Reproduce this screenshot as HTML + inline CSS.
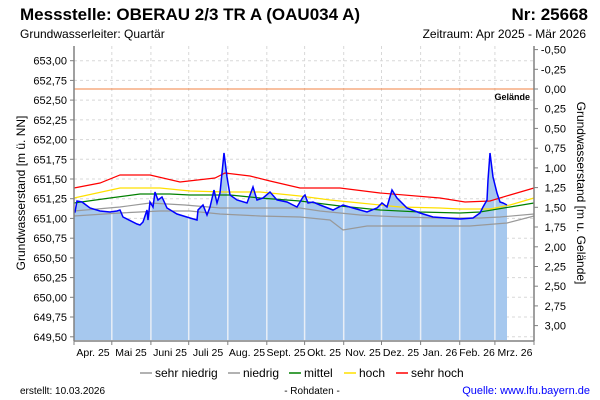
<!DOCTYPE html>
<html><head><meta charset="utf-8"><style>
html,body{margin:0;padding:0;background:#fff;}
svg{display:block;font-family:"Liberation Sans",sans-serif;}
</style></head><body>
<svg width="600" height="400" viewBox="0 0 600 400" xmlns="http://www.w3.org/2000/svg">
<rect width="600" height="400" fill="#fff"/>
<text x="20" y="20" font-size="17" font-weight="bold" fill="#000">Messstelle: OBERAU 2/3 TR A (OAU034 A)</text>
<text x="588" y="20" font-size="17" font-weight="bold" fill="#000" text-anchor="end">Nr: 25668</text>
<text x="20" y="38" font-size="12">Grundwasserleiter: Quartär</text>
<text x="586" y="38" font-size="12" text-anchor="end">Zeitraum: Apr 2025 - Mär 2026</text>
<!-- grid -->
<g stroke="#d8d8d8" stroke-dasharray="3,3" stroke-width="1">
<line x1="74" x2="534" y1="60.7" y2="60.7"/><line x1="74" x2="534" y1="80.4" y2="80.4"/><line x1="74" x2="534" y1="100.1" y2="100.1"/><line x1="74" x2="534" y1="119.9" y2="119.9"/><line x1="74" x2="534" y1="139.6" y2="139.6"/><line x1="74" x2="534" y1="159.3" y2="159.3"/><line x1="74" x2="534" y1="179" y2="179"/><line x1="74" x2="534" y1="198.7" y2="198.7"/><line x1="74" x2="534" y1="218.4" y2="218.4"/><line x1="74" x2="534" y1="238.2" y2="238.2"/><line x1="74" x2="534" y1="257.9" y2="257.9"/><line x1="74" x2="534" y1="277.6" y2="277.6"/><line x1="74" x2="534" y1="297.3" y2="297.3"/><line x1="74" x2="534" y1="317" y2="317"/><line x1="74" x2="534" y1="336.8" y2="336.8"/>
<line y1="46" y2="340" x1="111.8" x2="111.8"/><line y1="46" y2="340" x1="150.9" x2="150.9"/><line y1="46" y2="340" x1="188.7" x2="188.7"/><line y1="46" y2="340" x1="227.8" x2="227.8"/><line y1="46" y2="340" x1="266.8" x2="266.8"/><line y1="46" y2="340" x1="304.6" x2="304.6"/><line y1="46" y2="340" x1="343.7" x2="343.7"/><line y1="46" y2="340" x1="381.5" x2="381.5"/><line y1="46" y2="340" x1="420.6" x2="420.6"/><line y1="46" y2="340" x1="459.7" x2="459.7"/><line y1="46" y2="340" x1="494.9" x2="494.9"/>
</g>
<!-- fill -->
<polygon fill="#a6c8ee" points="74,340 74,212 75,212 77,201 82,202 90,208 100,211 110,212 117,211 120,210 123,217 137,224 140,225 143,222 147,210 148,220 150,202 153,207 155,192 158,200 162,197 167,208 177,214 190,218 197,220 198,210 203,205 207,215 210,207 214,190 217,203 220,193 222,173 224,153 227,177 230,195 237,200 247,203 253,187 257,200 263,198 270,192 277,200 287,202 297,207 303,197 305,195 308,203 313,202 320,205 333,210 343,205 353,208 367,212 377,208 382,203 387,207 392,190 397,198 407,208 420,213 433,217 447,218 460,219 473,218 480,213 483,207 487,200 488,180 490,153 493,177 497,193 500,202 503,203 507,205 507,340"/>
<g stroke="#e8eef6" stroke-width="1.5">
<line y1="212" y2="340" x1="111.8" x2="111.8"/><line y1="205" y2="340" x1="150.9" x2="150.9"/><line y1="218" y2="340" x1="188.7" x2="188.7"/><line y1="180" y2="340" x1="227.8" x2="227.8"/><line y1="200" y2="340" x1="266.8" x2="266.8"/><line y1="200" y2="340" x1="304.6" x2="304.6"/><line y1="206" y2="340" x1="343.7" x2="343.7"/><line y1="205" y2="340" x1="381.5" x2="381.5"/><line y1="213" y2="340" x1="420.6" x2="420.6"/><line y1="219" y2="340" x1="459.7" x2="459.7"/><line y1="200" y2="340" x1="494.9" x2="494.9"/>
</g>
<!-- reference lines -->
<polyline fill="none" stroke="#999" stroke-width="1.2" points="74,216 120,213 160,211 190,211 220,214 260,216 300,217 330,220 343,230 367,226 420,226 470,226 507,223 534,216"/>
<polyline fill="none" stroke="#999" stroke-width="1.2" points="74,211 120,207 150,203 185,205 220,208 300,208 320,211 360,215 400,217 440,218 480,218 500,217 534,214"/>
<polyline fill="none" stroke="#008000" stroke-width="1.2" points="74,203 110,198 140,194 170,194 190,195 230,195 260,198 300,201 340,206 380,210 420,212 460,213 480,212 510,207 534,203"/>
<polyline fill="none" stroke="#ffe000" stroke-width="1.2" points="74,198 120,188 160,188 190,191 225,192 260,192 300,196 330,200 360,203 400,207 440,208 460,209 490,209 510,205 534,198"/>
<polyline fill="none" stroke="#ff0000" stroke-width="1.2" points="74,188 100,183 120,175 150,175 180,182 215,178 225,173 250,176 270,181 300,188 340,188 380,193 440,198 465,202 490,201 510,195 534,188"/>
<polyline fill="none" stroke="#0000ff" stroke-width="1.5" points="74,212 75,212 77,201 82,202 90,208 100,211 110,212 117,211 120,210 123,217 137,224 140,225 143,222 147,210 148,220 150,202 153,207 155,192 158,200 162,197 167,208 177,214 190,218 197,220 198,210 203,205 207,215 210,207 214,190 217,203 220,193 222,173 224,153 227,177 230,195 237,200 247,203 253,187 257,200 263,198 270,192 277,200 287,202 297,207 303,197 305,195 308,203 313,202 320,205 333,210 343,205 353,208 367,212 377,208 382,203 387,207 392,190 397,198 407,208 420,213 433,217 447,218 460,219 473,218 480,213 483,207 487,200 488,180 490,153 493,177 497,193 500,202 503,203 507,205"/>
<!-- Gelände -->
<line x1="74" x2="534" y1="89" y2="89" stroke="#f08040" stroke-width="1"/>
<text x="530" y="100" font-size="9" font-weight="bold" text-anchor="end">Gelände</text>
<!-- axes -->
<g stroke="#808080" stroke-width="1.5" fill="none">
<line x1="74" y1="46" x2="74" y2="341"/><line x1="534" y1="46" x2="534" y2="341"/><line x1="74" y1="341" x2="534" y2="341"/>
</g>
<g stroke="#808080" stroke-width="1">
<line x1="70" x2="74" y1="60.7" y2="60.7"/><line x1="70" x2="74" y1="80.4" y2="80.4"/><line x1="70" x2="74" y1="100.1" y2="100.1"/><line x1="70" x2="74" y1="119.9" y2="119.9"/><line x1="70" x2="74" y1="139.6" y2="139.6"/><line x1="70" x2="74" y1="159.3" y2="159.3"/><line x1="70" x2="74" y1="179" y2="179"/><line x1="70" x2="74" y1="198.7" y2="198.7"/><line x1="70" x2="74" y1="218.4" y2="218.4"/><line x1="70" x2="74" y1="238.2" y2="238.2"/><line x1="70" x2="74" y1="257.9" y2="257.9"/><line x1="70" x2="74" y1="277.6" y2="277.6"/><line x1="70" x2="74" y1="297.3" y2="297.3"/><line x1="70" x2="74" y1="317" y2="317"/><line x1="70" x2="74" y1="336.8" y2="336.8"/>
<line x1="534" x2="538" y1="49.6" y2="49.6"/><line x1="534" x2="538" y1="69.3" y2="69.3"/><line x1="534" x2="538" y1="89" y2="89"/><line x1="534" x2="538" y1="108.7" y2="108.7"/><line x1="534" x2="538" y1="128.4" y2="128.4"/><line x1="534" x2="538" y1="148.2" y2="148.2"/><line x1="534" x2="538" y1="167.9" y2="167.9"/><line x1="534" x2="538" y1="187.6" y2="187.6"/><line x1="534" x2="538" y1="207.3" y2="207.3"/><line x1="534" x2="538" y1="227" y2="227"/><line x1="534" x2="538" y1="246.8" y2="246.8"/><line x1="534" x2="538" y1="266.5" y2="266.5"/><line x1="534" x2="538" y1="286.2" y2="286.2"/><line x1="534" x2="538" y1="305.9" y2="305.9"/><line x1="534" x2="538" y1="325.6" y2="325.6"/>
<line y1="341" y2="345" x1="74" x2="74"/><line y1="341" y2="345" x1="111.8" x2="111.8"/><line y1="341" y2="345" x1="150.9" x2="150.9"/><line y1="341" y2="345" x1="188.7" x2="188.7"/><line y1="341" y2="345" x1="227.8" x2="227.8"/><line y1="341" y2="345" x1="266.8" x2="266.8"/><line y1="341" y2="345" x1="304.6" x2="304.6"/><line y1="341" y2="345" x1="343.7" x2="343.7"/><line y1="341" y2="345" x1="381.5" x2="381.5"/><line y1="341" y2="345" x1="420.6" x2="420.6"/><line y1="341" y2="345" x1="459.7" x2="459.7"/><line y1="341" y2="345" x1="494.9" x2="494.9"/><line y1="341" y2="345" x1="534" x2="534"/>
</g>
<g font-size="11" text-anchor="end">
<text x="67" y="64.7">653,00</text><text x="67" y="84.4">652,75</text><text x="67" y="104.1">652,50</text><text x="67" y="123.9">652,25</text><text x="67" y="143.6">652,00</text><text x="67" y="163.3">651,75</text><text x="67" y="183">651,50</text><text x="67" y="202.7">651,25</text><text x="67" y="222.4">651,00</text><text x="67" y="242.2">650,75</text><text x="67" y="261.9">650,50</text><text x="67" y="281.6">650,25</text><text x="67" y="301.3">650,00</text><text x="67" y="321">649,75</text><text x="67" y="340.8">649,50</text>
</g>
<g font-size="11" text-anchor="end">
<text x="566" y="53.6">-0,50</text><text x="566" y="73.3">-0,25</text><text x="566" y="93">0,00</text><text x="566" y="112.7">0,25</text><text x="566" y="132.4">0,50</text><text x="566" y="152.2">0,75</text><text x="566" y="171.9">1,00</text><text x="566" y="191.6">1,25</text><text x="566" y="211.3">1,50</text><text x="566" y="231">1,75</text><text x="566" y="250.8">2,00</text><text x="566" y="270.5">2,25</text><text x="566" y="290.2">2,50</text><text x="566" y="309.9">2,75</text><text x="566" y="329.6">3,00</text>
</g>
<g font-size="10.5" text-anchor="middle">
<text x="93" y="356">Apr. 25</text><text x="131" y="356">Mai 25</text><text x="170" y="356">Juni 25</text><text x="208" y="356">Juli 25</text><text x="247" y="356">Aug. 25</text><text x="286" y="356">Sept. 25</text><text x="324" y="356">Okt. 25</text><text x="363" y="356">Nov. 25</text><text x="401" y="356">Dez. 25</text><text x="440" y="356">Jan. 26</text><text x="477" y="356">Feb. 26</text><text x="515" y="356">Mrz. 26</text>
</g>
<text font-size="12" text-anchor="middle" transform="translate(25,193) rotate(-90)">Grundwasserstand [m ü. NN]</text>
<text font-size="12" text-anchor="middle" transform="translate(577,193) rotate(90)">Grundwasserstand [m u. Gelände]</text>
<!-- legend -->
<line x1="140" x2="152" y1="373" y2="373" stroke="#999" stroke-width="1.5"/><text x="155" y="377" font-size="12">sehr niedrig</text>
<line x1="228" x2="240" y1="373" y2="373" stroke="#999" stroke-width="1.5"/><text x="243" y="377" font-size="12">niedrig</text>
<line x1="289" x2="301" y1="373" y2="373" stroke="#008000" stroke-width="1.5"/><text x="304" y="377" font-size="12">mittel</text>
<line x1="344" x2="356" y1="373" y2="373" stroke="#ffe000" stroke-width="1.5"/><text x="359" y="377" font-size="12">hoch</text>
<line x1="396" x2="408" y1="373" y2="373" stroke="#ff0000" stroke-width="1.5"/><text x="411" y="377" font-size="12">sehr hoch</text>
<text x="20" y="394" font-size="10">erstellt:  10.03.2026</text>
<text x="312" y="394" font-size="10" text-anchor="middle">- Rohdaten -</text>
<text x="590" y="394" font-size="11" fill="#0000ff" text-anchor="end">Quelle: www.lfu.bayern.de</text>
</svg>
</body></html>
